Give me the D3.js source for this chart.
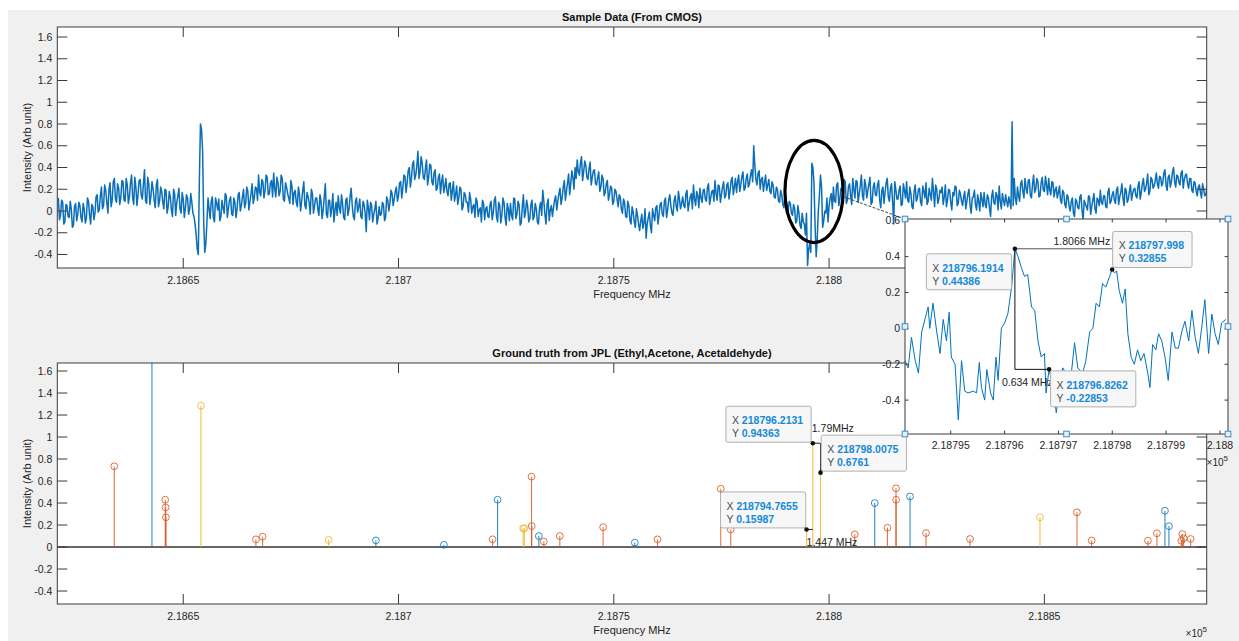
<!DOCTYPE html>
<html>
<head>
<meta charset="utf-8">
<script src="https://cdn.jsdelivr.net/npm/d3@7"></script>
<style>
  body { margin: 0; background: #fff; }
  svg text { font-family: "Liberation Sans", Arial, Helvetica, sans-serif; }
</style>
</head>
<body>
<svg id="fig" width="1239" height="641"></svg>
<script>
// ---------- CMOS sample spectrum ----------
// samples on a 0.5 MHz grid starting at cmosStart, plus the half-step samples in between
const cmosStart = 218621;
const cmosStep = 0.5;
const cmosIntensity = [
0.12,-0.04,0.08,-0.10,0.05,-0.06,0.02,-0.13,0.07,-0.03,
0.05,-0.10,0.02,-0.07,0.09,-0.12,0.04,-0.02,0.15,0.01,
0.22,0.05,0.19,-0.02,0.26,0.10,0.30,0.08,0.21,0.12,
0.27,0.09,0.24,0.13,0.33,0.06,0.22,0.15,0.29,0.11,
0.38,0.07,0.25,0.14,0.20,0.03,0.29,0.09,0.18,0.02,
0.19,0.04,0.13,-0.05,0.16,0.08,0.21,-0.02,0.11,0.03,
0.12,0.02,0.08,-0.05,-0.22,-0.40,0.80,0.55,-0.38,-0.10,
0.02,0.09,-0.06,0.12,0.01,-0.09,0.10,-0.02,0.14,0.03,
0.13,-0.04,0.08,0.02,0.17,0.05,0.20,0.07,0.18,0.09,
0.25,0.12,0.21,0.33,0.14,0.27,0.19,0.31,0.16,0.28,
0.35,0.13,0.26,0.18,0.30,0.09,0.22,0.12,0.28,0.06,
0.19,0.04,0.15,0.09,0.27,0.02,0.13,-0.03,0.16,0.05,
0.12,-0.04,0.09,0.01,0.25,-0.06,0.10,0.03,-0.10,0.08,
0.14,-0.02,0.07,-0.08,0.12,0.02,0.21,-0.05,0.09,-0.01,
0.11,-0.07,0.06,-0.19,0.03,0.08,-0.10,0.02,-0.12,0.04,
-0.03,0.06,-0.06,0.10,0.07,0.16,0.11,0.22,0.14,0.27,
0.21,0.32,0.26,0.40,0.30,0.46,0.33,0.55,0.36,0.44,
0.29,0.47,0.31,0.42,0.24,0.38,0.21,0.34,0.27,0.17,
0.30,0.14,0.26,0.19,0.09,0.23,0.12,0.20,0.04,0.15,
0.08,0.17,-0.02,0.06,0.12,-0.05,0.03,0.10,-0.08,0.04,
-0.06,0.09,-0.02,0.13,-0.10,0.05,-0.04,0.08,-0.13,0.02,
0.07,-0.08,0.11,-0.03,0.06,-0.11,0.15,-0.01,0.04,-0.07,
0.10,-0.05,0.02,-0.12,0.08,0.19,-0.03,0.06,-0.09,0.05,
0.03,0.14,0.09,0.21,0.12,0.28,0.18,0.34,0.25,0.31,
0.40,0.47,0.33,0.50,0.36,0.42,0.29,0.45,0.31,0.38,
0.24,0.36,0.22,0.30,0.17,0.28,0.15,0.21,0.09,0.18,
0.04,0.13,-0.02,0.08,-0.06,0.05,-0.12,-0.01,-0.15,-0.04,
-0.18,-0.03,-0.11,-0.25,-0.06,-0.14,0.02,-0.09,0.05,-0.04,
0.08,-0.05,0.12,0.01,0.15,-0.02,0.09,0.04,0.18,0.02,
0.13,0.03,0.19,0.07,0.16,0.24,0.05,0.14,0.21,0.08,
0.20,0.09,0.25,0.12,0.19,0.28,0.10,0.23,0.15,0.27,
0.14,0.26,0.19,0.31,0.22,0.17,0.33,0.24,0.36,0.21,
0.34,0.25,0.38,0.60,0.29,0.35,0.20,0.31,0.26,0.19,
0.29,0.16,0.24,0.12,0.20,0.08,0.15,0.03,0.11,0.00,
0.07,-0.04,0.02,-0.09,-0.02,-0.16,-0.10,-0.22,-0.50,-0.30,
0.44,0.25,-0.42,0.00,0.33,-0.15,0.00,0.12,0.05,0.16,
0.22,0.08,0.26,0.11,0.19,0.29,0.07,0.23,0.14,0.30,
0.12,0.27,0.16,0.33,0.10,0.24,0.19,0.31,0.08,0.26,
0.14,0.28,0.03,0.22,0.17,0.30,0.09,0.25,-0.12,0.20,
0.11,0.23,0.06,0.19,0.27,0.08,0.16,0.02,0.24,0.12,
0.21,0.05,0.18,0.26,0.09,0.15,0.30,0.04,0.20,0.11,
0.17,0.06,0.24,0.10,0.19,0.01,0.14,0.22,0.07,0.16,
0.05,0.18,0.09,0.20,-0.02,0.13,0.06,0.15,0.00,0.11,
0.17,0.03,0.12,-0.05,0.19,0.06,0.14,0.23,0.02,0.10,
0.15,0.04,0.08,0.82,0.30,0.06,0.14,0.25,0.18,0.30,
0.16,0.29,0.12,0.33,0.20,0.27,0.14,0.31,0.18,0.24,
0.30,0.15,0.26,0.19,0.12,0.23,0.07,0.17,0.03,0.13,
0.00,0.12,-0.05,0.09,0.02,0.15,-0.08,0.07,0.01,0.13,
0.04,0.16,-0.02,0.10,0.19,0.06,0.14,0.03,0.21,0.09,
0.18,0.07,0.22,0.13,0.25,0.05,0.19,0.11,0.24,0.16,
0.21,0.12,0.27,0.17,0.30,0.20,0.34,0.18,0.29,0.23,
0.35,0.21,0.31,0.26,0.38,0.19,0.33,0.27,0.40,0.22,
0.32,0.24,0.37,0.29,0.34,0.21,0.30,0.17,0.26,0.14,
0.24,0.12,0.20,0.15,0.19
];
const cmosIntensityHalfStep = [
-0.08,0.10,-0.12,0.06,-0.05,0.09,-0.15,0.04,-0.09,0.08,
-0.06,0.07,-0.11,0.12,-0.04,0.06,-0.08,0.13,-0.01,0.14,
0.02,0.24,0.08,0.20,0.04,0.27,0.11,0.25,0.06,0.28,
0.10,0.30,0.07,0.26,0.12,0.31,0.05,0.28,0.14,0.25,
0.09,0.31,0.06,0.27,0.10,0.24,0.04,0.22,0.08,0.20,
-0.02,0.18,0.01,0.20,-0.04,0.14,0.02,0.17,-0.06,0.15,
-0.03,0.16,-0.02,-0.12,-0.35,0.30,0.75,-0.10,-0.30,0.12,
-0.07,0.13,-0.10,0.07,0.11,-0.05,0.03,0.16,-0.06,0.10,
-0.03,0.12,-0.06,0.15,0.00,0.13,0.03,0.22,0.01,0.16,
0.07,0.22,0.10,0.17,0.29,0.12,0.33,0.15,0.26,0.13,
0.20,0.31,0.14,0.33,0.11,0.26,0.16,0.07,0.23,0.17,
0.08,0.22,0.00,0.19,0.05,0.17,0.08,0.20,-0.02,0.12,
0.02,0.15,-0.07,0.13,-0.03,0.10,-0.05,0.16,0.01,-0.04,
0.03,0.15,-0.06,0.10,-0.04,0.13,0.05,-0.08,0.12,0.04,
-0.05,0.09,-0.02,0.10,-0.08,0.05,-0.03,0.09,-0.07,-0.04,
0.08,-0.09,0.13,0.00,0.19,0.05,0.18,0.09,0.26,0.12,
0.33,0.17,0.37,0.22,0.43,0.29,0.41,0.30,0.50,0.31,
0.39,0.24,0.43,0.27,0.35,0.19,0.31,0.16,0.33,0.22,
0.18,0.25,0.10,0.27,0.15,0.06,0.22,0.01,0.17,0.08,
-0.01,0.11,0.04,-0.06,0.09,0.01,-0.10,0.07,0.02,-0.05,
0.06,-0.08,0.10,-0.05,0.08,-0.11,0.12,-0.06,0.07,-0.09,
-0.04,0.12,-0.07,0.09,-0.13,0.04,-0.06,0.10,-0.10,0.06,
-0.08,0.07,-0.10,0.03,-0.04,0.09,-0.12,0.11,0.01,-0.05,
0.10,0.01,0.16,0.06,0.22,0.10,0.26,0.15,0.37,0.20,
0.30,0.36,0.44,0.28,0.46,0.31,0.39,0.24,0.37,0.25,
0.31,0.18,0.33,0.14,0.25,0.10,0.23,0.06,0.20,0.11,
0.15,0.02,0.11,-0.05,0.09,-0.09,0.04,-0.10,0.02,-0.12,
-0.09,-0.16,0.02,-0.12,-0.01,-0.20,-0.04,0.03,-0.12,0.06,
-0.03,0.09,-0.06,0.10,0.05,-0.04,0.14,0.00,0.11,0.07,
0.05,0.16,0.00,0.13,0.02,0.11,0.18,0.03,0.12,0.19,
0.11,0.22,0.06,0.18,0.09,0.16,0.24,0.08,0.22,0.12,
0.24,0.11,0.28,0.15,0.30,0.27,0.18,0.32,0.19,0.30,
0.22,0.33,0.27,0.42,0.24,0.37,0.29,0.18,0.33,0.24,
0.18,0.27,0.13,0.22,0.09,0.19,0.06,0.14,0.05,0.09,
-0.02,0.06,-0.11,0.05,-0.13,-0.02,-0.12,-0.02,-0.35,-0.38,
0.40,-0.14,-0.25,0.14,0.22,-0.09,-0.02,-0.10,0.12,0.02,
0.09,0.24,0.05,0.21,0.13,0.27,0.10,0.25,0.06,0.20,
0.28,0.08,0.23,0.14,0.29,0.12,0.25,0.06,0.22,0.15,
0.24,0.10,0.19,0.07,0.26,0.13,0.21,0.08,0.27,0.11,
0.19,0.05,0.25,0.12,0.10,0.22,0.04,0.18,0.09,0.20,
0.08,0.23,0.12,0.06,0.21,0.10,0.18,0.24,0.07,0.19,
0.22,0.13,0.04,0.20,0.08,0.17,0.23,0.05,0.19,0.09,
0.13,0.02,0.16,0.05,0.12,0.19,0.01,0.09,0.17,0.04,
0.06,0.15,0.03,0.13,0.08,0.17,0.01,0.09,0.16,0.05,
0.09,0.13,0.02,0.05,0.12,0.22,0.09,0.28,0.12,0.21,
0.28,0.14,0.25,0.17,0.30,0.13,0.26,0.19,0.32,0.15,
0.19,0.27,0.13,0.22,0.17,0.10,0.19,0.06,0.15,0.04,
0.09,-0.02,0.11,0.03,0.13,0.00,0.10,0.04,0.14,-0.03,
0.10,0.02,0.12,0.05,0.08,0.14,0.04,0.17,0.07,0.15,
0.10,0.19,0.06,0.17,0.12,0.21,0.08,0.18,0.10,0.20,
0.14,0.23,0.11,0.25,0.18,0.26,0.15,0.31,0.21,0.28,
0.25,0.32,0.23,0.35,0.24,0.31,0.22,0.36,0.27,0.33,
0.26,0.35,0.21,0.33,0.25,0.30,0.19,0.27,0.18,0.22,
0.17,0.25,0.14,0.22,0.13
];

// ---------- zoomed window of the CMOS spectrum ----------
const zoomFreq = [
218794.15,218794.21,218794.27,218794.34,218794.40,218794.46,218794.52,218794.58,218794.61,218794.67,
218794.74,218794.80,218794.86,218794.92,218794.97,218795.01,218795.08,218795.14,218795.20,218795.26,
218795.32,218795.42,218795.48,218795.53,218795.57,218795.63,218795.67,218795.74,218795.79,218795.84,
218795.88,218795.94,218796.00,218796.06,218796.13,218796.1914,218796.25,218796.31,218796.37,218796.43,
218796.50,218796.56,218796.62,218796.68,218796.74,218796.77,218796.8262,218796.90,218796.96,218797.02,
218797.08,218797.14,218797.24,218797.30,218797.36,218797.45,218797.51,218797.58,218797.64,218797.70,
218797.76,218797.82,218797.88,218797.95,218797.998,218798.04,218798.08,218798.13,218798.19,218798.24,
218798.29,218798.35,218798.41,218798.47,218798.53,218798.59,218798.66,218798.70,218798.75,218798.81,
218798.86,218798.92,218798.98,218799.04,218799.11,218799.17,218799.23,218799.29,218799.35,218799.42,
218799.48,218799.54,218799.60,218799.66,218799.72,218799.79,218799.85,218799.91,218799.97,218800.03,
218800.11
];
const zoomIntensity = [
-0.18,-0.22,-0.05,-0.18,-0.25,-0.02,0.05,0.12,0.00,0.14,
-0.02,-0.14,0.05,-0.07,0.09,-0.16,-0.20,-0.51,-0.18,-0.35,
-0.36,-0.35,-0.36,-0.19,-0.33,-0.40,-0.23,-0.36,-0.40,-0.16,
-0.29,0.00,0.03,0.08,0.23,0.44386,0.40,0.34,0.29,0.30,
0.12,0.10,-0.07,-0.16,-0.14,-0.36,-0.22853,-0.33,-0.47,-0.33,
-0.22,-0.25,-0.25,-0.08,-0.22,-0.25,-0.18,-0.02,0.00,0.14,
0.12,0.25,0.23,0.29,0.32855,0.31,0.32,0.21,0.14,0.22,
-0.03,-0.16,-0.20,-0.12,-0.18,-0.14,-0.25,-0.33,-0.09,-0.12,
-0.03,-0.07,-0.16,-0.29,-0.02,-0.11,-0.11,-0.02,0.04,-0.07,
0.10,-0.05,-0.14,0.00,0.16,-0.14,0.08,-0.03,-0.09,0.03,
0.05
];

// ---------- JPL line catalogue (MHz, relative intensity) ----------
const ethylFreq = [218642.73,218694.74,218710.53,218723.00,218732.59,218754.88,218810.60,218818.80,218878.00,218878.93];
const ethylInt  = [2.40,0.06,0.02,0.43,0.10,0.04,0.40,0.46,0.33,0.19];
const acetoneFreq = [218633.98,218645.82,218645.91,218645.98,218666.88,218668.43,218721.84,218730.89,218730.94,218733.75,
  218737.46,218747.52,218760.15,218774.84,218777.16,218805.96,218813.55,218815.54,218815.56,218822.51,
  218832.73,218857.57,218860.98,218874.05,218876.14,218881.81,218882.04,218882.34,218883.97];
const acetoneInt  = [0.734,0.43,0.36,0.27,0.07,0.094,0.07,0.64,0.19,0.05,
  0.10,0.18,0.07,0.53,0.16,0.115,0.175,0.534,0.43,0.127,
  0.073,0.315,0.06,0.057,0.125,0.057,0.118,0.08,0.073];
const acetaldehydeFreq = [218654.11,218683.76,218728.94,218729.22,218794.7655,218796.2131,218798.0075,218848.98];
const acetaldehydeInt  = [1.285,0.065,0.17,0.17,0.15987,0.94363,0.6761,0.27];

// ---------- tick values ----------
const freqTicks = [218650, 218700, 218750, 218800, 218850];
const intensityTicks = [-0.4, -0.2, 0, 0.2, 0.4, 0.6, 0.8, 1, 1.2, 1.4, 1.6];
const zoomFreqTicks = [218795, 218796, 218797, 218798, 218799, 218800];
const zoomIntTicks = [-0.4, -0.2, 0, 0.2, 0.4, 0.6];

// ---------- data tips (side: which side of the point the box sits) ----------
const zoomTips = [
  { f: 218796.1914, v: 0.44386, xs: "218796.1914", ys: "0.44386", side: "left", gap: 3.3, dy: 5 },
  { f: 218797.998,  v: 0.32855, xs: "218797.998",  ys: "0.32855", side: "right", gap: 0.5, dy: -38 },
  { f: 218796.8262, v: -0.22853, xs: "218796.8262", ys: "-0.22853", side: "right", gap: 1.5, dy: 1.5 }
];
const jplTips = [
  { f: 218796.2131, v: 0.94363, xs: "218796.2131", ys: "0.94363", side: "left", gap: 1.6, dy: -37 },
  { f: 218798.0075, v: 0.6761,  xs: "218798.0075", ys: "0.6761",  side: "right", gap: 0.7, dy: -37.5 },
  { f: 218794.7655, v: 0.15987, xs: "218794.7655", ys: "0.15987", side: "left", gap: 0.8, dy: -37.5 }
];

// ---------- styling ----------
const W = 1239, H = 641;
const C_BLUE = "#0072BD", C_ORANGE = "#D95319", C_YELLOW = "#EDB120";
const AX = "#3a3a3a", TXT = "#262626";
const tickFont = 10.5;

const svg = d3.select("#fig");
svg.append("rect").attr("x", 8).attr("y", 10).attr("width", W - 8).attr("height", H - 10).attr("fill", "#f0f0f0");

const defs = svg.append("defs");
let clipId = 0;
function makeClip(x0, y0, w, h) {
  const id = "clip" + (clipId++);
  defs.append("clipPath").attr("id", id).append("rect").attr("x", x0).attr("y", y0).attr("width", w).attr("height", h);
  return "url(#" + id + ")";
}

const fmtFreq = d => String(+(d / 1e5).toFixed(6));
const fmtInt = d => String(+d.toFixed(1));

// Axes frame: white background, box, inward ticks on all four sides, labels
function frame(g, x, y, xt, yt, tickLen, opts) {
  const [x0, x1] = x.range(), [y1, y0] = y.range();
  g.append("rect").attr("x", x0).attr("y", y0).attr("width", x1 - x0).attr("height", y1 - y0).attr("fill", "#fff");
  return function decorate() {
    const t = g.append("g");
    xt.forEach(d => {
      const px = x(d);
      t.append("line").attr("x1", px).attr("x2", px).attr("y1", y1).attr("y2", y1 - tickLen).attr("stroke", AX);
      t.append("line").attr("x1", px).attr("x2", px).attr("y1", y0).attr("y2", y0 + tickLen).attr("stroke", AX);
      t.append("text").attr("x", px).attr("y", y1 + opts.xLabelOffset).attr("text-anchor", "middle")
        .attr("font-size", tickFont).attr("fill", TXT).text(fmtFreq(d));
    });
    yt.forEach(d => {
      const py = y(d);
      t.append("line").attr("x1", x0).attr("x2", x0 + tickLen).attr("y1", py).attr("y2", py).attr("stroke", AX);
      t.append("line").attr("x1", x1).attr("x2", x1 - tickLen).attr("y1", py).attr("y2", py).attr("stroke", AX);
      t.append("text").attr("x", x0 - 5).attr("y", py + 3.7).attr("text-anchor", "end")
        .attr("font-size", tickFont).attr("fill", TXT).text(fmtInt(d));
    });
    t.append("rect").attr("x", x0).attr("y", y0).attr("width", x1 - x0).attr("height", y1 - y0)
      .attr("fill", "none").attr("stroke", AX).attr("stroke-width", 1);
  };
}

function exponentLabel(g, xRight, yBase) {
  const t = g.append("text").attr("x", xRight).attr("y", yBase).attr("text-anchor", "end")
    .attr("font-size", 10).attr("fill", TXT);
  t.append("tspan").text("\u00d710");
  t.append("tspan").attr("dy", -5).attr("font-size", 8).text("5");
}

function axisTexts(g, x, y, title, titleY, xlabelY) {
  const [x0, x1] = x.range(), [y1, y0] = y.range();
  g.append("text").attr("x", (x0 + x1) / 2).attr("y", titleY).attr("text-anchor", "middle")
    .attr("font-size", 11).attr("font-weight", "bold").attr("fill", "#111").text(title);
  g.append("text").attr("x", (x0 + x1) / 2).attr("y", xlabelY).attr("text-anchor", "middle")
    .attr("font-size", 11).attr("fill", TXT).text("Frequency MHz");
  g.append("text").attr("transform", `translate(31,${(y0 + y1) / 2}) rotate(-90)`).attr("text-anchor", "middle")
    .attr("font-size", 11).attr("fill", TXT).text("Intensity (Arb unit)");
}

function dataTip(g, px, py, tip) {
  const gg = g.append("g");
  const rect = gg.append("rect").attr("rx", 2).attr("fill", "#f7f7f7").attr("stroke", "#b0b0b0");
  const l1 = gg.append("text").attr("x", 6).attr("y", 18).attr("font-size", 10.5);
  l1.append("tspan").attr("fill", "#4a4a4a").text("X ");
  l1.append("tspan").attr("fill", "#1589d6").attr("font-weight", "bold").text(tip.xs);
  const l2 = gg.append("text").attr("x", 6).attr("y", 31).attr("font-size", 10.5);
  l2.append("tspan").attr("fill", "#4a4a4a").text("Y ");
  l2.append("tspan").attr("fill", "#1589d6").attr("font-weight", "bold").text(tip.ys);
  const w = Math.max(l1.node().getComputedTextLength(), l2.node().getComputedTextLength()) + 14;
  rect.attr("width", w).attr("height", 36);
  const left = tip.side === "left" ? px - tip.gap - w : px + tip.gap;
  gg.attr("transform", `translate(${left},${py + tip.dy})`);
  g.append("circle").attr("cx", px).attr("cy", py).attr("r", 2.3).attr("fill", "#111");
}

// ================= top axes: CMOS sample =================
const xTop = d3.scaleLinear().domain([218620.75, 218887.7]).range([57.3, 1206.7]);
const yTop = d3.scaleLinear().domain([-0.524, 1.692]).range([268, 27]);
const gTop = svg.append("g");
const decoTop = frame(gTop, xTop, yTop, freqTicks, intensityTicks, 10, { xLabelOffset: 15.5 });
const cmosPts = [];
cmosIntensity.forEach((v, i) => {
  const f = cmosStart + i * cmosStep;
  cmosPts.push([f, v]);
  cmosPts.push([f + cmosStep / 2, cmosIntensityHalfStep[i]]);
});
gTop.append("path").datum(cmosPts).attr("clip-path", makeClip(57.3, 27, 1149.4, 241))
  .attr("fill", "none").attr("stroke", "#0a6fb8").attr("stroke-width", 1.5).attr("stroke-linejoin", "round")
  .attr("d", d3.line().x(d => xTop(d[0])).y(d => yTop(d[1])));
decoTop();
axisTexts(gTop, xTop, yTop, "Sample Data (From CMOS)", 21, 298);

// ================= bottom axes: JPL catalogue =================
const xBot = d3.scaleLinear().domain([218620.75, 218887.7]).range([57.3, 1206.7]);
const yBot = d3.scaleLinear().domain([-0.518, 1.673]).range([604, 363]);
const gBot = svg.append("g");
const decoBot = frame(gBot, xBot, yBot, freqTicks, intensityTicks, 10, { xLabelOffset: 15.5 });
const stemClip = makeClip(57.3, 363, 1149.4, 241);
const gStems = gBot.append("g").attr("clip-path", stemClip);
gStems.append("line").attr("x1", 57.3).attr("x2", 1206.7).attr("y1", yBot(0)).attr("y2", yBot(0))
  .attr("stroke", "#333").attr("stroke-width", 1.4);

function stems(freqs, vals, color, skipMarkers) {
  const data = freqs.map((f, i) => ({ f, v: vals[i] }));
  const g = gStems.append("g");
  g.selectAll("line").data(data).join("line")
    .attr("x1", d => xBot(d.f)).attr("x2", d => xBot(d.f))
    .attr("y1", yBot(0)).attr("y2", d => yBot(d.v))
    .attr("stroke", color).attr("stroke-width", 1.1).attr("stroke-opacity", 0.8);
  g.selectAll("circle").data(data.filter(d => !skipMarkers.includes(d.f))).join("circle")
    .attr("cx", d => xBot(d.f)).attr("cy", d => yBot(d.v)).attr("r", 3.4)
    .attr("fill", "none").attr("stroke", color).attr("stroke-width", 1).attr("stroke-opacity", 0.8);
}
stems(ethylFreq, ethylInt, C_BLUE, []);
stems(acetoneFreq, acetoneInt, C_ORANGE, []);
stems(acetaldehydeFreq, acetaldehydeInt, C_YELLOW, [218794.7655, 218796.2131, 218798.0075]);
decoBot();
axisTexts(gBot, xBot, yBot, "Ground truth from JPL (Ethyl,Acetone, Acetaldehyde)", 357, 634);
exponentLabel(svg, 1207, 637);

// measurement guides between the JPL data tips
{
  const [a, b, c] = jplTips;
  const ax = xBot(a.f), ay = yBot(a.v), bx = xBot(b.f), by = yBot(b.v), cx = xBot(c.f), cy = yBot(c.v);
  gBot.append("path").attr("d", `M${ax},${ay}H${bx}V${by}`).attr("fill", "none").attr("stroke", "#222").attr("stroke-width", 1);
  gBot.append("path").attr("d", `M${cx},${cy}H${ax}`).attr("fill", "none").attr("stroke", "#222").attr("stroke-width", 1);
  jplTips.forEach(t => dataTip(gBot, xBot(t.f), yBot(t.v), t));
  gBot.append("text").attr("x", ax - 1).attr("y", ay - 11).attr("font-size", 10.5).attr("fill", "#222").text("1.79MHz");
  gBot.append("text").attr("x", cx).attr("y", cy + 17).attr("font-size", 10.5).attr("fill", "#222").text("1.447 MHz");
}

// ================= highlight ellipse =================
const ell = { f: 218796.5, v: 0.18, hf: 6.75, hv: 0.47 };
const ecx = xTop(ell.f), ecy = yTop(ell.v);
const erx = xTop(ell.f + ell.hf) - ecx, ery = yTop(ell.v - ell.hv) - ecy;

// ================= zoom inset =================
const xIn = d3.scaleLinear().domain([218794.15, 218800.15]).range([905, 1228]);
const yIn = d3.scaleLinear().domain([-0.589, 0.610]).range([434, 219]);
const gIn = svg.append("g");

svg.insert("line", () => gIn.node())
  .attr("x1", ecx + erx * Math.cos(0.1)).attr("y1", ecy + ery * Math.sin(0.1))
  .attr("x2", 905).attr("y2", 219).attr("stroke", "#333").attr("stroke-width", 0.9).attr("stroke-dasharray", "3,1.5");
svg.insert("ellipse", () => gIn.node()).attr("cx", ecx).attr("cy", ecy).attr("rx", erx).attr("ry", ery)
  .attr("fill", "none").attr("stroke", "#000").attr("stroke-width", 3.2);

const decoIn = frame(gIn, xIn, yIn, zoomFreqTicks, zoomIntTicks, 3.5, { xLabelOffset: 15 });
gIn.append("path").datum(zoomFreq.map((f, i) => [f, zoomIntensity[i]]))
  .attr("clip-path", makeClip(905, 219, 323, 215))
  .attr("fill", "none").attr("stroke", C_BLUE).attr("stroke-width", 1).attr("stroke-linejoin", "round")
  .attr("d", d3.line().x(d => xIn(d[0])).y(d => yIn(d[1])));
decoIn();
exponentLabel(gIn, 1228, 466);

// measurement guides between the inset data tips
{
  const [p, q, r] = zoomTips;
  const px = xIn(p.f), py = yIn(p.v), qx = xIn(q.f), rx = xIn(r.f), ry = yIn(r.v);
  gIn.append("path").attr("d", `M${px},${py}H${qx}`).attr("stroke", "#555").attr("fill", "none");
  gIn.append("path").attr("d", `M${px},${py}V${ry}H${rx}`).attr("stroke", "#111").attr("fill", "none");
  gIn.append("text").attr("x", qx - 2).attr("y", py - 3.5).attr("text-anchor", "end")
    .attr("font-size", 10.5).attr("fill", "#222").text("1.8066  MHz");
  gIn.append("text").attr("x", px - 13).attr("y", ry + 16.5)
    .attr("font-size", 10.5).attr("fill", "#222").text("0.634 MHz");
  zoomTips.forEach(t => dataTip(gIn, xIn(t.f), yIn(t.v), t));
}

// selection handles on the inset axes
{
  const [x0, x1] = xIn.range(), [y1, y0] = yIn.range();
  const xm = (x0 + x1) / 2, ym = (y0 + y1) / 2;
  [[x0, y0], [xm, y0], [x1, y0], [x0, ym], [x1, ym], [x0, y1], [xm, y1], [x1, y1]].forEach(([hx, hy]) => {
    gIn.append("rect").attr("x", hx - 2.8).attr("y", hy - 2.8).attr("width", 5.6).attr("height", 5.6)
      .attr("fill", "#e4eff8").attr("stroke", "#3d8fc6").attr("stroke-width", 1);
  });
}
</script>
</body>
</html>
